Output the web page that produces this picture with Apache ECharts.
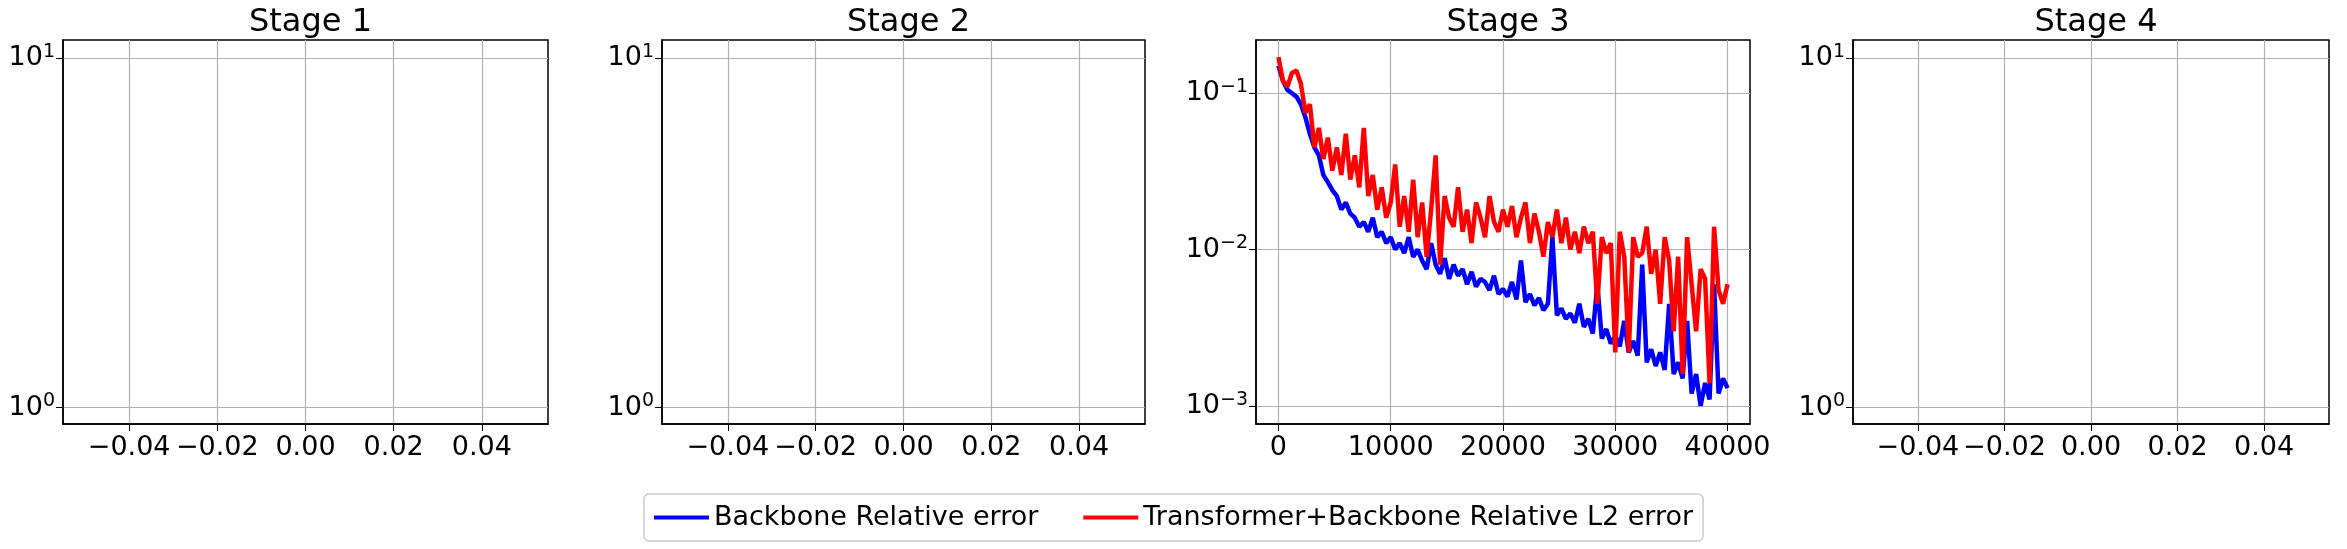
<!DOCTYPE html>
<html><head><meta charset="utf-8">
<script src="https://cdn.jsdelivr.net/npm/echarts@6/dist/echarts.min.js"></script>
<style>html,body{margin:0;padding:0;background:#fff}#c{width:2347px;height:549px}</style>
</head><body><div id="c"></div>
<script>
const stageTitles = ['Stage 1','Stage 2','Stage 3','Stage 4'];
const seriesNames = ['Backbone Relative error','Transformer+Backbone Relative L2 error'];
const steps = Array.from({length:101},(_,i)=>i*400);
const backbone = [0.15,0.12,0.105,0.1,0.095,0.085,0.07,0.055,0.045,0.04,
0.03,0.027,0.024,0.022,0.018,0.02,0.017,0.016,0.014,0.015,
0.013,0.016,0.012,0.013,0.011,0.012,0.010,0.011,0.0095,0.012,
0.009,0.010,0.0085,0.0075,0.011,0.008,0.007,0.0088,0.0065,0.008,
0.0068,0.0075,0.006,0.0072,0.0058,0.0065,0.0062,0.0055,0.0068,0.0052,
0.0056,0.005,0.0062,0.0048,0.0085,0.0046,0.0052,0.0044,0.0049,0.0041,
0.0045,0.012,0.0038,0.0042,0.0036,0.0039,0.0034,0.0045,0.0032,0.0036,
0.0029,0.006,0.0027,0.0031,0.0025,0.0028,0.0024,0.0035,0.0022,0.0026,
0.0021,0.008,0.0019,0.0023,0.0018,0.0022,0.0017,0.0045,0.0016,0.0019,
0.0015,0.0035,0.0012,0.0016,0.001,0.0014,0.0011,0.006,0.0012,0.0015,0.0013];
const transformer = [0.17,0.12,0.11,0.135,0.14,0.115,0.075,0.085,0.045,0.06,
0.038,0.052,0.032,0.045,0.03,0.055,0.028,0.04,0.025,0.06,
0.022,0.03,0.018,0.025,0.016,0.02,0.035,0.014,0.022,0.013,
0.028,0.012,0.02,0.009,0.018,0.04,0.008,0.022,0.016,0.014,
0.025,0.013,0.018,0.011,0.02,0.016,0.012,0.022,0.015,0.013,
0.018,0.014,0.019,0.012,0.016,0.02,0.011,0.017,0.013,0.009,
0.015,0.012,0.018,0.011,0.016,0.01,0.013,0.0095,0.014,0.011,
0.013,0.0045,0.012,0.0095,0.011,0.0022,0.013,0.009,0.0022,0.012,
0.009,0.0095,0.014,0.007,0.010,0.0045,0.012,0.0085,0.003,0.009,
0.0016,0.012,0.006,0.003,0.0075,0.0065,0.0014,0.014,0.0055,0.0045,0.006];
const emptyXTicks = [-0.04,-0.02,0,0.02,0.04];
const emptyYTicks = [1,10];
const s3XTicks = [0,10000,20000,30000,40000];
const s3YTicks = [0.001,0.01,0.1];

const grids = [{left:63,width:485},{left:662,width:483},{left:1256,width:494},{left:1853,width:476}];
const FS = 27;
const supFmt = v => { const e = Math.round(Math.log10(v)); return '10{sup|' + String(e).replace('-','\u2212') + '}'; };
const rich = {sup:{fontSize:19,verticalAlign:'top',padding:[0,0,12,0],color:'#000',fontFamily:'DejaVu Sans'}};
const option = {
  animation:false,
  textStyle:{fontFamily:'DejaVu Sans'},
  title: grids.map((g,i)=>({text:stageTitles[i],left:g.left+g.width/2,top:2,textAlign:'center',
    textStyle:{fontSize:32,fontWeight:'normal',color:'#000',fontFamily:'DejaVu Sans'}})),
  grid: grids.map(g=>({left:g.left,width:g.width,top:40,height:384,show:true,borderColor:'#000',borderWidth:1.5,backgroundColor:'transparent'})),
  legend:{data:seriesNames,bottom:8,left:'center',itemWidth:55,itemHeight:4,itemGap:45,icon:'rect',
    borderColor:'#ccc',borderWidth:1.5,borderRadius:5,padding:[10,10],
    textStyle:{fontSize:27,color:'#000',fontFamily:'DejaVu Sans'}},
  xAxis: grids.map((g,i)=>{
    const s3 = i===2;
    const ticks = s3 ? s3XTicks : emptyXTicks;
    return {type:'value',gridIndex:i,min:s3?-2000:-0.055,max:s3?42000:0.055,
      axisLine:{show:true,onZero:false,lineStyle:{color:'#000',width:1.5}},
      axisTick:{show:true,length:7,customValues:ticks,lineStyle:{color:'#000'}},
      axisLabel:{customValues:ticks,fontSize:FS,color:'#000',margin:10,
        formatter:v=>s3?String(v):v.toFixed(2).replace('-','\u2212')},
      splitLine:{show:true,lineStyle:{color:'#b0b0b0',width:1.2}}};
  }),
  yAxis: grids.map((g,i)=>{
    const s3 = i===2;
    const ticks = s3 ? s3YTicks : emptyYTicks;
    return {type:'log',gridIndex:i,min:s3?0.000766:0.897,max:s3?0.219:11.29,
      axisLine:{show:true,onZero:false,lineStyle:{color:'#000',width:1.5}},
      axisTick:{show:true,length:7,customValues:ticks,lineStyle:{color:'#000'}},
      axisLabel:{customValues:ticks,fontSize:FS,color:'#000',margin:8,formatter:supFmt,rich:rich},
      splitLine:{show:true,lineStyle:{color:'#b0b0b0',width:1.2}}};
  }),
  series:[
    {name:seriesNames[0],type:'line',xAxisIndex:2,yAxisIndex:2,showSymbol:false,
     data:steps.map((x,i)=>[x,backbone[i]]),lineStyle:{color:'#0000ff',width:4.5},itemStyle:{color:'#0000ff'}},
    {name:seriesNames[1],type:'line',xAxisIndex:2,yAxisIndex:2,showSymbol:false,
     data:steps.map((x,i)=>[x,transformer[i]]),lineStyle:{color:'#ff0000',width:4.5},itemStyle:{color:'#ff0000'}}
  ]
};
echarts.init(document.getElementById('c')).setOption(option);
</script></body></html>
